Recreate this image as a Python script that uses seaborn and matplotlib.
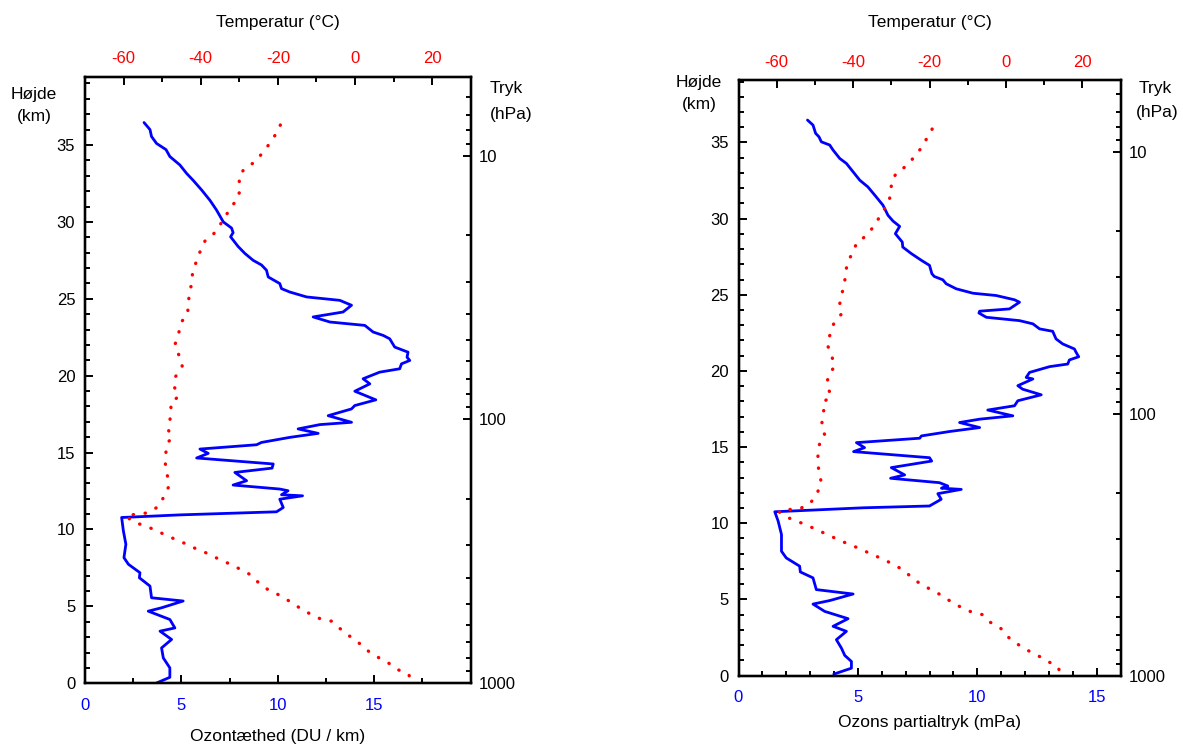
"""Ozone soundings: ozone density / partial pressure and temperature vs height."""

import matplotlib
matplotlib.use("Agg")
import matplotlib.pyplot as plt
import matplotlib.ticker as mticker
import pandas as pd
import seaborn as sns

# left panel: ozone density (DU/km) vs height (km)
dens_km = [36.46, 36.0, 35.55, 35.1, 34.7, 34.25, 33.7, 33.15, 32.7, 32.07, 31.4, 30.77, 30.0, 29.6, 29.3,
           29.03, 28.4, 27.95, 27.5, 27.2, 26.86, 26.42, 25.99, 25.66, 25.44, 25.12, 24.9, 24.58, 24.14, 23.82,
           23.49, 23.27, 22.84, 22.62, 22.4, 21.86, 21.53, 21.2, 20.99, 20.77, 20.45, 20.23, 19.8, 19.47, 18.99,
           18.43, 18.06, 17.84, 17.4, 16.97, 16.82, 16.54, 16.25, 15.99, 15.66, 15.51, 15.23, 14.95, 14.65, 14.26,
           13.99, 13.71, 13.17, 12.89, 12.63, 12.52, 12.26, 12.19, 11.97, 11.43, 11.15, 10.95, 10.78, 9.91, 9.04,
           8.17, 7.74, 7.19, 6.86, 6.32, 5.56, 5.35, 4.91, 4.69, 4.15, 3.6, 3.39, 2.85, 2.3, 1.65, 1.0, 0.39, 0.02]
dens_du = [3.06, 3.37, 3.45, 3.71, 4.2, 4.4, 4.92, 5.27, 5.61, 6.05, 6.48, 6.82, 7.17, 7.6, 7.68,
           7.55, 7.94, 8.29, 8.72, 9.15, 9.41, 9.5, 10.1, 10.19, 10.62, 11.49, 13.21, 13.82, 13.38, 11.83,
           12.7, 14.51, 14.94, 15.46, 15.8, 16.06, 16.75, 16.7, 16.84, 16.41, 16.32, 15.28, 14.42, 14.77, 13.99,
           15.08, 13.99, 13.82, 12.61, 13.82, 12.18, 11.05, 12.09, 10.62, 9.15, 8.9, 5.96, 6.39, 5.79, 9.76,
           9.7, 7.77, 8.38, 7.68, 10.1, 10.53, 10.19, 11.28, 10.1, 10.28, 9.93, 4.92, 1.9, 1.99, 2.12,
           2.02, 2.25, 2.85, 2.82, 3.37, 3.45, 5.09, 3.97, 3.28, 4.4, 4.66, 3.89, 4.49, 3.97, 4.06, 4.4, 4.4, 3.71]

# left panel: temperature (°C) vs height (km)
temp1_km = [36.3, 35.72, 35.07, 34.5, 33.9, 33.49, 32.9, 32.18, 31.49, 30.83, 30.12, 29.57, 29.2, 28.8, 28.27,
            27.56, 26.86, 26.1, 25.4, 24.7, 24.08, 23.47, 22.77, 22.0, 21.3, 20.62, 19.95, 19.25, 18.64, 18.2,
            17.62, 17.03, 16.47, 15.99, 15.63, 15.17, 14.52, 14.0, 13.45, 12.73, 12.15, 11.49, 11.08, 11.0, 10.89,
            10.52, 10.28, 10.02, 9.65, 9.34, 9.04, 8.72, 8.43, 8.06, 7.74, 7.41, 7.04, 6.54, 6.06, 5.72,
            5.3, 4.91, 4.52, 4.19, 4.04, 3.57, 3.06, 2.63, 2.17, 1.74, 1.37, 0.89, 0.57, 0.02]
temp1_c = [-19.35, -20.5, -22.2, -23.95, -25.9, -28.6, -30.2, -29.66, -30.5, -32.5, -34.1, -35.7, -36.7, -38.8, -39.87,
           -40.9, -42.0, -42.4, -42.7, -43.4, -43.3, -45.06, -45.7, -46.7, -45.6, -44.8, -46.5, -46.8, -45.8, -47.9,
           -47.5, -48.1, -48.4, -47.4, -48.6, -48.96, -49.2, -49.1, -48.6, -48.4, -49.5, -50.96, -53.8, -56.6, -59.4,
           -57.7, -55.0, -52.26, -49.2, -46.4, -43.6, -41.0, -38.1, -35.2, -32.3, -29.7, -26.96, -25.0, -22.4, -19.5,
           -16.75, -14.4, -11.7, -8.96, -6.1, -3.95, -1.35, 0.99, 3.0, 5.6, 8.4, 11.1, 13.97, 14.6]

# right panel: ozone partial pressure (mPa) vs height (km)
pp_km = [36.47, 36.14, 35.6, 35.37, 35.04, 34.83, 34.5, 33.95, 33.62, 33.07, 32.52, 32.08, 31.42, 30.88, 30.22,
         29.84, 29.49, 29.01, 28.46, 28.13, 27.7, 27.26, 26.93, 26.38, 26.2, 25.98, 25.72, 25.39, 25.1, 24.95,
         24.67, 24.51, 24.07, 23.92, 23.8, 23.52, 23.3, 23.09, 22.76, 22.6, 22.1, 21.77, 21.44, 21.22, 20.93,
         20.72, 20.45, 20.28, 19.9, 19.57, 19.47, 19.03, 18.8, 18.43, 18.04, 17.71, 17.43, 17.05, 16.83, 16.61,
         16.28, 16.02, 15.73, 15.58, 15.29, 14.96, 14.7, 14.3, 14.08, 13.65, 13.17, 12.95, 12.66, 12.44, 12.3,
         12.22, 11.94, 11.57, 11.13, 11.01, 10.75, 10.14, 9.26, 8.16, 7.72, 7.18, 6.8, 6.41, 5.64, 5.35,
         4.92, 4.69, 4.21, 3.73, 3.23, 2.9, 2.35, 1.8, 1.32, 0.92, 0.48, 0.09]
pp_mpa = [2.89, 3.12, 3.23, 3.37, 3.47, 3.82, 3.96, 4.24, 4.52, 4.8, 5.08, 5.42, 5.77, 6.05, 6.26,
          6.47, 6.75, 6.57, 6.86, 6.88, 7.24, 7.66, 8.0, 8.1, 8.2, 8.56, 8.7, 9.12, 9.82, 10.79,
          11.56, 11.77, 11.35, 10.1, 10.07, 10.38, 11.77, 12.33, 12.61, 13.16, 13.3, 13.58, 14.07, 14.14, 14.25,
          13.86, 13.79, 13.03, 12.19, 12.05, 12.33, 11.7, 11.9, 12.68, 11.7, 11.56, 10.44, 11.49, 10.1, 9.26,
          10.1, 8.84, 7.66, 7.59, 4.94, 5.28, 4.82, 8.0, 8.09, 6.4, 6.96, 6.37, 8.42, 8.77, 8.5,
          9.33, 8.35, 8.49, 8.0, 5.21, 1.52, 1.66, 1.8, 1.8, 2.0, 2.56, 2.59, 3.12, 3.26, 4.8,
          3.82, 3.12, 3.61, 4.59, 3.96, 4.52, 4.1, 4.31, 4.45, 4.73, 4.73, 3.99]

# right panel: temperature (°C) vs height (km)
temp2_km = [35.88, 35.27, 34.65, 34.06, 33.49, 33.05, 32.48, 31.82, 31.09, 30.41, 29.67, 29.16, 28.88, 28.42, 27.96,
            27.3, 26.53, 25.79, 25.1, 24.4, 23.75, 23.15, 22.5, 21.75, 21.02, 20.32, 19.64, 18.96, 18.37, 17.93,
            17.38, 16.83, 16.35, 15.78, 15.41, 14.86, 14.31, 13.76, 13.25, 12.55, 12.0, 11.3, 10.97, 10.9, 10.75,
            10.42, 10.14, 9.85, 9.53, 9.22, 8.89, 8.6, 8.31, 7.99, 7.66, 7.33, 6.96, 6.52, 6.01, 5.64,
            5.27, 4.87, 4.5, 4.17, 4.0, 3.51, 3.11, 2.52, 2.13, 1.69, 1.32, 0.92, 0.55, 0.05]
temp2_c = [-19.3, -20.7, -22.1, -24.0, -25.8, -28.5, -29.9, -30.1, -30.6, -32.4, -34.1, -35.6, -36.5, -39.1, -39.7,
           -41.1, -42.0, -42.2, -42.9, -43.5, -43.0, -45.0, -45.9, -46.8, -45.65, -44.8, -46.6, -46.8, -45.65, -47.85,
           -47.7, -48.1, -48.2, -47.4, -48.5, -49.2, -49.2, -49.2, -48.7, -48.3, -49.4, -51.2, -53.8, -56.6, -59.4,
           -57.6, -54.8, -51.9, -49.2, -46.4, -43.7, -40.9, -38.1, -35.4, -32.4, -29.7, -27.1, -25.0, -22.4, -19.6,
           -16.9, -14.5, -11.9, -9.0, -6.2, -4.2, -1.4, 0.6, 2.6, 5.4, 8.3, 11.05, 13.7, 14.3]

W, H = 1183, 746
BLUE = "#0000ff"
RED = "#ff0000"


def px(x, y):
    return x / W, 1 - y / H


def panel(fig, rect, oz_km, oz_val, t_km, t_val, xmax, xmajor, xminor, ytop, ptop):
    ax = fig.add_axes(rect)
    oz = pd.DataFrame({"km": oz_km, "val": oz_val})
    tt = pd.DataFrame({"km": t_km, "temp": t_val})

    sns.lineplot(data=oz, x="val", y="km", sort=False, estimator=None,
                 color=BLUE, lw=2.0, ax=ax)
    ax.set_xlim(0, xmax)
    ax.set_ylim(0, ytop)
    ax.xaxis.set_major_locator(mticker.MultipleLocator(xmajor))
    ax.xaxis.set_minor_locator(mticker.MultipleLocator(xminor))
    ax.yaxis.set_major_locator(mticker.MultipleLocator(5))
    ax.yaxis.set_minor_locator(mticker.MultipleLocator(1))
    ax.xaxis.set_major_formatter(mticker.FuncFormatter(lambda v, p: "" if v > xmax - 0.5 else f"{v:g}"))
    ax.set_xlabel("")
    ax.set_ylabel("")
    ax.tick_params(axis="x", which="both", direction="in", bottom=True, top=False,
                   labelcolor=BLUE, pad=10.5)
    ax.tick_params(axis="y", which="both", direction="in", left=True, right=False, pad=7)

    # temperature on the top axis
    axt = ax.twiny()
    sns.lineplot(data=tt, x="temp", y="km", sort=False, estimator=None, color=RED,
                 lw=2.4, linestyle=(0, (0.1, 3.5)), dash_capstyle="round", ax=axt)
    axt.set_xlim(-70, 30)
    axt.set_ylim(0, ytop)
    axt.xaxis.set_major_locator(mticker.MultipleLocator(20))
    axt.xaxis.set_minor_locator(mticker.MultipleLocator(10))
    axt.set_xlabel("")
    axt.set_ylabel("")
    axt.tick_params(axis="x", which="both", direction="in", top=True, bottom=False,
                    labeltop=True, labelbottom=False, labelcolor=RED, pad=7.5)
    axt.tick_params(axis="y", which="both", left=False, right=False, labelleft=False, labelright=False)

    # pressure on the right axis
    axp = ax.twinx()
    axp.set_yscale("log")
    axp.set_ylim(1000, ptop)
    axp.yaxis.set_major_locator(mticker.LogLocator(base=10, numticks=10))
    axp.yaxis.set_minor_locator(mticker.LogLocator(base=10, subs=range(2, 10), numticks=10))
    axp.yaxis.set_major_formatter(mticker.FuncFormatter(lambda v, p: f"{v:g}"))
    axp.yaxis.set_minor_formatter(mticker.NullFormatter())
    axp.tick_params(axis="y", which="both", direction="in", right=True, left=False, pad=6)

    for a in (ax, axt, axp):
        for s in a.spines.values():
            s.set_linewidth(1.6)
            s.set_color("black")
        a.tick_params(which="major", length=6, width=1.4, labelsize=12)
        a.tick_params(which="minor", length=3.5, width=1.4)
    return ax


def main():
    sns.set_theme(style="white")
    plt.rcParams["font.family"] = ["Liberation Sans", "DejaVu Sans"]
    plt.rcParams["font.size"] = 12
    plt.rcParams["axes.unicode_minus"] = False
    plt.rcParams["text.color"] = "black"
    plt.rcParams["xtick.color"] = "black"
    plt.rcParams["ytick.color"] = "black"

    fig = plt.figure(figsize=(W / 100, H / 100), dpi=100)

    # left panel (axes box in pixels: x 85..470.7, y 76.7..683.3)
    panel(fig, [85 / W, 1 - 683.3 / H, 385.7 / W, 606.6 / H],
          dens_km, dens_du, temp1_km, temp1_c, 20, 5, 2.5, 39.44, 5.02)
    # right panel (axes box in pixels: x 738.5..1120.5, y 80..675.5)
    panel(fig, [738.5 / W, 1 - 675.5 / H, 382 / W, 595.5 / H],
          pp_km, pp_mpa, temp2_km, temp2_c, 16, 5, 1, 39.1, 5.29)

    fs = 12.5
    fig.text(*px(278, 22), "Temperatur (°C)", ha="center", va="center", fontsize=fs)
    fig.text(*px(278, 737), "Ozontæthed (DU / km)", ha="center", va="center", fontsize=fs)
    fig.text(*px(34, 94), "Højde", ha="center", va="center", fontsize=fs)
    fig.text(*px(34, 116), "(km)", ha="center", va="center", fontsize=fs)
    fig.text(*px(490, 88), "Tryk", ha="left", va="center", fontsize=fs)
    fig.text(*px(490, 114), "(hPa)", ha="left", va="center", fontsize=fs)

    fig.text(*px(929.5, 22), "Temperatur (°C)", ha="center", va="center", fontsize=fs)
    fig.text(*px(929.5, 723), "Ozons partialtryk (mPa)", ha="center", va="center", fontsize=fs)
    fig.text(*px(699, 83), "Højde", ha="center", va="center", fontsize=fs)
    fig.text(*px(699, 104), "(km)", ha="center", va="center", fontsize=fs)
    fig.text(*px(1155, 88), "Tryk", ha="center", va="center", fontsize=fs)
    fig.text(*px(1157, 112), "(hPa)", ha="center", va="center", fontsize=fs)

    fig.savefig("out.png", dpi=100)


if __name__ == "__main__":
    main()
